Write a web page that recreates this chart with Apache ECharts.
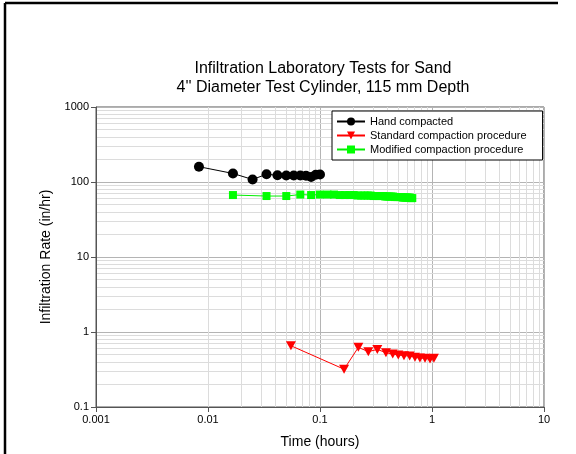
<!DOCTYPE html>
<html><head><meta charset="utf-8">
<script src="https://cdn.jsdelivr.net/npm/echarts@6/dist/echarts.min.js"></script>
<style>html,body{margin:0;padding:0;background:#fff}#c{width:576px;height:454px}</style>
</head><body><div id="c"></div>
<script>
const FONT = '"Liberation Sans", Arial, sans-serif';
const titleLines = ['Infiltration Laboratory Tests for Sand', '4\'\' Diameter Test Cylinder, 115 mm Depth'];
const xName = 'Time (hours)';
const yName = 'Infiltration Rate (in/hr)';
const xTickLabels = ['0.001', '0.01', '0.1', '1', '10'];
const yTickLabels = ['0.1', '1', '10', '100', '1000'];
const seriesNames = ['Hand compacted', 'Standard compaction procedure', 'Modified compaction procedure'];

const handTime = [0.0083, 0.0167, 0.025, 0.0333, 0.0417, 0.05, 0.0583, 0.0667, 0.075, 0.0833, 0.0917, 0.1];
const handRate = [160, 130, 108, 127, 123, 122, 122, 122, 121, 117, 125, 126];

const stdTime = [0.055, 0.164, 0.22, 0.27, 0.325, 0.388, 0.446, 0.5, 0.562, 0.632, 0.705, 0.78, 0.866, 0.96, 1.04];
const stdRate = [0.656, 0.319, 0.624, 0.547, 0.586, 0.530, 0.508, 0.493, 0.484, 0.478, 0.459, 0.45, 0.445, 0.436, 0.445];

const modTime = [0.0167, 0.0333, 0.05, 0.0667, 0.0833, 0.1, 0.1167, 0.1333, 0.15, 0.1667, 0.1833, 0.2, 0.2167, 0.2333, 0.25, 0.2667, 0.2833, 0.3, 0.3167, 0.3333, 0.35, 0.3667, 0.3833, 0.4, 0.4167, 0.4333, 0.45, 0.4667, 0.4833, 0.5, 0.5167, 0.5333, 0.55, 0.5667, 0.5833, 0.6, 0.6167, 0.6333, 0.65, 0.6667];
const modRate = [67, 65, 65, 68, 67, 68, 68, 68, 67, 67, 67, 67, 66, 66, 66, 66, 66, 65, 65, 65, 65, 65, 64, 64, 64, 64, 64, 63, 63, 63, 63, 63, 62, 62, 62, 62, 62, 62, 61, 61];

// minor grid positions (multipliers within each decade)
const minorMult = [2, 3, 4, 5, 6, 7, 8, 9];
const xDecades = [0.001, 0.01, 0.1, 1];
const yDecades = [0.1, 1, 10, 100];

const zip = (a, b) => a.map((v, i) => [v, b[i]]);
const minorX = [], minorY = [];
xDecades.forEach(d => minorMult.forEach(m => minorX.push({ xAxis: +(d * m).toPrecision(3) })));
yDecades.forEach(d => minorMult.forEach(m => minorY.push({ yAxis: +(d * m).toPrecision(3) })));

const labelFor = (list) => (v) => {
  const e = Math.round(Math.log10(v));
  const s = list.find(t => Math.round(Math.log10(parseFloat(t))) === e);
  return s || '';
};

const triDown = 'path://M0,0 L10,0 L5,9 Z';

const chart = echarts.init(document.getElementById('c'), null, { renderer: 'canvas' });
chart.setOption({
  backgroundColor: '#fff',
  animation: false,
  textStyle: { fontFamily: FONT },
  title: {
    text: titleLines.join('\n'),
    left: 318, top: 54, textAlign: 'center',
    textStyle: { fontFamily: FONT, fontSize: 16, fontWeight: 'normal', color: '#000', lineHeight: 19 }
  },
  legend: {
    orient: 'vertical', left: 332, top: 111, zlevel: 2, z: 10,
    backgroundColor: '#fff', borderColor: '#000', borderWidth: 1,
    padding: [5, 16, 5, 4], itemGap: 3, itemWidth: 28, itemHeight: 10,
    textStyle: { fontFamily: FONT, fontSize: 11, color: '#000' },
    data: seriesNames
  },
  grid: { left: 96, right: 32, top: 107, bottom: 45, show: true, borderColor: '#555', borderWidth: 1, backgroundColor: 'transparent' },
  xAxis: {
    type: 'log', logBase: 10, min: 0.001, max: 10,
    name: xName, nameLocation: 'middle', nameGap: 28,
    nameTextStyle: { fontFamily: FONT, fontSize: 14, color: '#000' },
    axisLine: { lineStyle: { color: '#555' } },
    axisTick: { show: true, length: 5, lineStyle: { color: '#555' } },
    axisLabel: { fontFamily: FONT, fontSize: 11, color: '#000', margin: 7, formatter: labelFor(xTickLabels) },
    splitLine: { show: true, lineStyle: { color: '#b4b4b4', width: 1 } },
    minorTick: { show: false }
  },
  yAxis: {
    type: 'log', logBase: 10, min: 0.1, max: 1000,
    name: yName, nameLocation: 'middle', nameGap: 35, nameRotate: 90,
    nameTextStyle: { fontFamily: FONT, fontSize: 14, color: '#000' },
    axisLine: { lineStyle: { color: '#555' } },
    axisTick: { show: true, length: 5, lineStyle: { color: '#555' } },
    axisLabel: { fontFamily: FONT, fontSize: 11, color: '#000', margin: 7, formatter: labelFor(yTickLabels) },
    splitLine: { show: true, lineStyle: { color: '#b4b4b4', width: 1 } },
    minorTick: { show: false }
  },
  graphic: [
    { type: 'line', shape: { x1: 5, y1: 3, x2: 558, y2: 3 }, style: { stroke: '#000', lineWidth: 2.5 } },
    { type: 'line', shape: { x1: 5, y1: 3, x2: 5, y2: 454 }, style: { stroke: '#000', lineWidth: 2.5 } }
  ],
  series: [
    {
      name: '_grid', type: 'line', data: [], silent: true, z: 0,
      markLine: {
        silent: true, symbol: 'none', animation: false, z: 0,
        label: { show: false },
        lineStyle: { color: '#dcdcdc', width: 1, type: 'solid' },
        emphasis: { disabled: true },
        data: minorX.concat(minorY)
      }
    },
    {
      name: seriesNames[0], type: 'line', data: zip(handTime, handRate), z: 5,
      symbol: 'circle', symbolSize: 10,
      lineStyle: { color: '#000', width: 1 }, itemStyle: { color: '#000' }
    },
    {
      name: seriesNames[1], type: 'line', data: zip(stdTime, stdRate), z: 5,
      symbol: triDown, symbolSize: [10, 9],
      lineStyle: { color: '#ff0000', width: 1 }, itemStyle: { color: '#ff0000' }
    },
    {
      name: seriesNames[2], type: 'line', data: zip(modTime, modRate), z: 5,
      symbol: 'rect', symbolSize: 8,
      lineStyle: { color: '#00ee00', width: 1 }, itemStyle: { color: '#00ff00' }
    }
  ]
});
</script>
</body></html>
